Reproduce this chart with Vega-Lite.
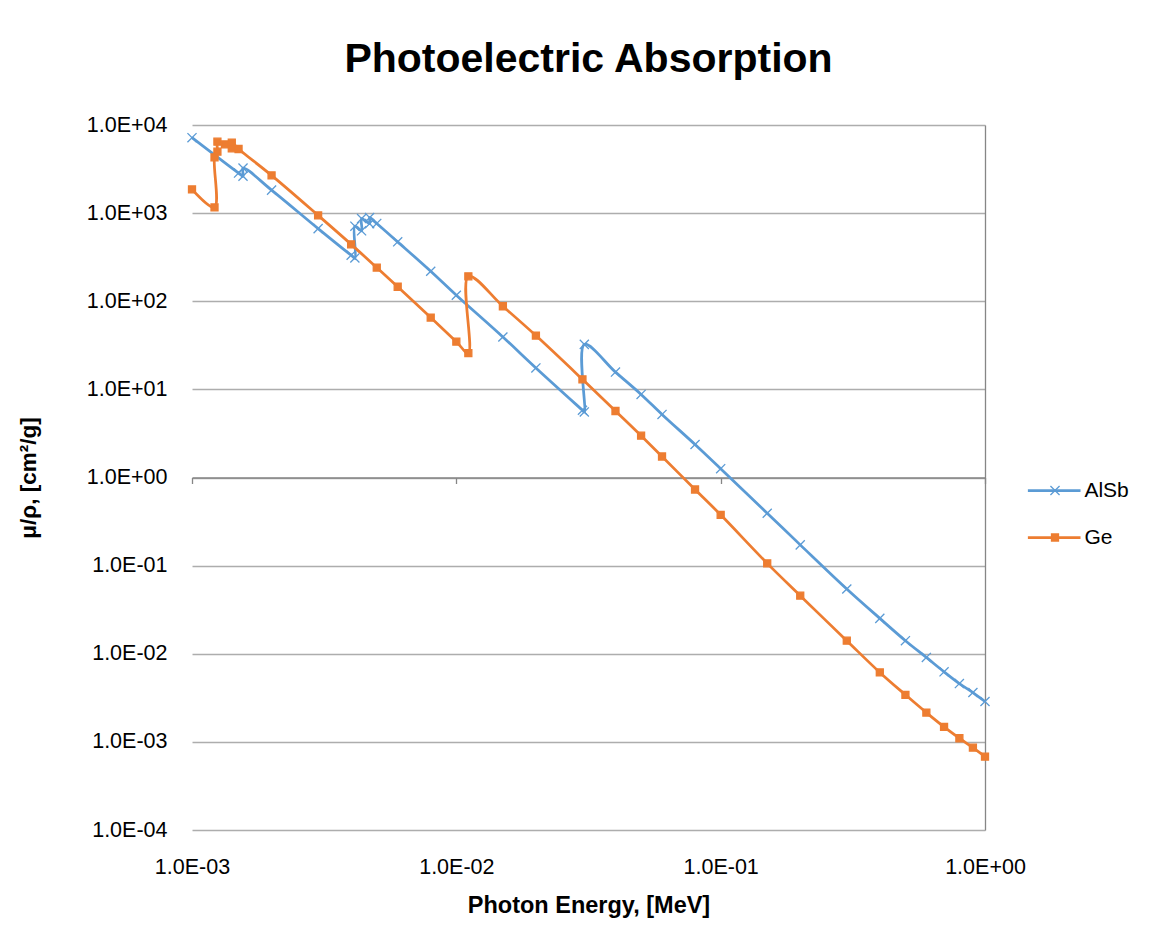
{
  "$schema": "https://vega.github.io/schema/vega-lite/v6.json",
  "width": 793,
  "height": 705,
  "autosize": {"type": "none"},
  "padding": {"left": 192, "top": 125, "right": 172, "bottom": 107},
  "background": "white",
  "title": {"text": "Photoelectric Absorption", "font": "Liberation Sans", "fontSize": 41, "fontWeight": "bold", "color": "#000000", "anchor": "middle", "baseline": "alphabetic", "offset": 1},
  "config": {
    "view": {"stroke": null},
    "axis": {"labelFont": "Liberation Sans", "titleFont": "Liberation Sans"},
    "legend": {"labelFont": "Liberation Sans"}
  },
  "data": {"values": [
    {"s": "AlSb", "i": 1, "E": 0.001, "mu": 7180},
    {"s": "AlSb", "i": 2, "E": 0.0015, "mu": 2848},
    {"s": "AlSb", "i": 3, "E": 0.0015596, "mu": 2630},
    {"s": "AlSb", "i": 4, "E": 0.0015596, "mu": 3245},
    {"s": "AlSb", "i": 5, "E": 0.002, "mu": 1824},
    {"s": "AlSb", "i": 6, "E": 0.003, "mu": 667},
    {"s": "AlSb", "i": 7, "E": 0.004, "mu": 333},
    {"s": "AlSb", "i": 8, "E": 0.004132, "mu": 310},
    {"s": "AlSb", "i": 9, "E": 0.004132, "mu": 711},
    {"s": "AlSb", "i": 10, "E": 0.004381, "mu": 630},
    {"s": "AlSb", "i": 11, "E": 0.004381, "mu": 867},
    {"s": "AlSb", "i": 12, "E": 0.004698, "mu": 760},
    {"s": "AlSb", "i": 13, "E": 0.004698, "mu": 890},
    {"s": "AlSb", "i": 14, "E": 0.005, "mu": 764},
    {"s": "AlSb", "i": 15, "E": 0.006, "mu": 472},
    {"s": "AlSb", "i": 16, "E": 0.008, "mu": 219},
    {"s": "AlSb", "i": 17, "E": 0.01, "mu": 117},
    {"s": "AlSb", "i": 18, "E": 0.015, "mu": 39.3},
    {"s": "AlSb", "i": 19, "E": 0.02, "mu": 17.5},
    {"s": "AlSb", "i": 20, "E": 0.03, "mu": 5.8},
    {"s": "AlSb", "i": 21, "E": 0.03049, "mu": 5.55},
    {"s": "AlSb", "i": 22, "E": 0.03049, "mu": 32.4},
    {"s": "AlSb", "i": 23, "E": 0.04, "mu": 15.7},
    {"s": "AlSb", "i": 24, "E": 0.05, "mu": 8.77},
    {"s": "AlSb", "i": 25, "E": 0.06, "mu": 5.2},
    {"s": "AlSb", "i": 26, "E": 0.08, "mu": 2.37},
    {"s": "AlSb", "i": 27, "E": 0.1, "mu": 1.26},
    {"s": "AlSb", "i": 28, "E": 0.15, "mu": 0.393},
    {"s": "AlSb", "i": 29, "E": 0.2, "mu": 0.172},
    {"s": "AlSb", "i": 30, "E": 0.3, "mu": 0.0543},
    {"s": "AlSb", "i": 31, "E": 0.4, "mu": 0.0252},
    {"s": "AlSb", "i": 32, "E": 0.5, "mu": 0.01406},
    {"s": "AlSb", "i": 33, "E": 0.6, "mu": 0.00908},
    {"s": "AlSb", "i": 34, "E": 0.7, "mu": 0.00624},
    {"s": "AlSb", "i": 35, "E": 0.8, "mu": 0.00459},
    {"s": "AlSb", "i": 36, "E": 0.9, "mu": 0.00363},
    {"s": "AlSb", "i": 37, "E": 1.0, "mu": 0.00287},
    {"s": "Ge", "i": 1, "E": 0.001, "mu": 1858},
    {"s": "Ge", "i": 2, "E": 0.0012167, "mu": 1161},
    {"s": "Ge", "i": 3, "E": 0.0012167, "mu": 4295},
    {"s": "Ge", "i": 4, "E": 0.0012478, "mu": 4980},
    {"s": "Ge", "i": 5, "E": 0.0012478, "mu": 6460},
    {"s": "Ge", "i": 6, "E": 0.001333, "mu": 6030},
    {"s": "Ge", "i": 7, "E": 0.0014143, "mu": 5435},
    {"s": "Ge", "i": 8, "E": 0.0014143, "mu": 6310},
    {"s": "Ge", "i": 9, "E": 0.0015, "mu": 5340},
    {"s": "Ge", "i": 10, "E": 0.002, "mu": 2680},
    {"s": "Ge", "i": 11, "E": 0.003, "mu": 942},
    {"s": "Ge", "i": 12, "E": 0.004, "mu": 442},
    {"s": "Ge", "i": 13, "E": 0.005, "mu": 241},
    {"s": "Ge", "i": 14, "E": 0.006, "mu": 146},
    {"s": "Ge", "i": 15, "E": 0.008, "mu": 65.3},
    {"s": "Ge", "i": 16, "E": 0.01, "mu": 34.8},
    {"s": "Ge", "i": 17, "E": 0.011103, "mu": 25.8},
    {"s": "Ge", "i": 18, "E": 0.011103, "mu": 192},
    {"s": "Ge", "i": 19, "E": 0.015, "mu": 87.7},
    {"s": "Ge", "i": 20, "E": 0.02, "mu": 40.8},
    {"s": "Ge", "i": 21, "E": 0.03, "mu": 13.0},
    {"s": "Ge", "i": 22, "E": 0.04, "mu": 5.68},
    {"s": "Ge", "i": 23, "E": 0.05, "mu": 2.98},
    {"s": "Ge", "i": 24, "E": 0.06, "mu": 1.73},
    {"s": "Ge", "i": 25, "E": 0.08, "mu": 0.731},
    {"s": "Ge", "i": 26, "E": 0.1, "mu": 0.377},
    {"s": "Ge", "i": 27, "E": 0.15, "mu": 0.106},
    {"s": "Ge", "i": 28, "E": 0.2, "mu": 0.0456},
    {"s": "Ge", "i": 29, "E": 0.3, "mu": 0.01406},
    {"s": "Ge", "i": 30, "E": 0.4, "mu": 0.00614},
    {"s": "Ge", "i": 31, "E": 0.5, "mu": 0.00342},
    {"s": "Ge", "i": 32, "E": 0.6, "mu": 0.00215},
    {"s": "Ge", "i": 33, "E": 0.7, "mu": 0.00148},
    {"s": "Ge", "i": 34, "E": 0.8, "mu": 0.0011},
    {"s": "Ge", "i": 35, "E": 0.9, "mu": 0.00086},
    {"s": "Ge", "i": 36, "E": 1.0, "mu": 0.00068}
  ]},
  "layer": [
    {
      "mark": {"type": "line", "interpolate": "catmull-rom", "strokeWidth": 2.75},
      "encoding": {
        "x": {"field": "E", "type": "quantitative",
              "scale": {"type": "log", "domain": [0.001, 1], "nice": false},
              "axis": {"values": [0.001, 0.01, 0.1, 1], "grid": false, "domain": false, "ticks": false, "tickSize": 0,
                       "labelExpr": "'1.0E' + (round(log(datum.value)/LN10) < 0 ? '-' : '+') + (abs(round(log(datum.value)/LN10)) < 10 ? '0' : '') + abs(round(log(datum.value)/LN10))",
                       "labelFontSize": 21.5, "labelColor": "#000000", "labelBaseline": "alphabetic", "labelPadding": 43, "labelFlush": false, "labelOverlap": false,
                       "title": "Photon Energy, [MeV]", "titleFontSize": 23.5, "titleFontWeight": "bold", "titleColor": "#000000", "titlePadding": 16}},
        "y": {"field": "mu", "type": "quantitative",
              "scale": {"type": "log", "domain": [0.0001, 10000], "nice": false},
              "axis": {"values": [0.0001, 0.001, 0.01, 0.1, 1, 10, 100, 1000, 10000], "grid": true, "gridColor": "#ADADAD", "gridWidth": 1.5,
                       "domain": false, "ticks": false, "tickSize": 0,
                       "labelExpr": "'1.0E' + (round(log(datum.value)/LN10) < 0 ? '-' : '+') + (abs(round(log(datum.value)/LN10)) < 10 ? '0' : '') + abs(round(log(datum.value)/LN10))",
                       "labelFontSize": 21.5, "labelColor": "#000000", "labelPadding": 25, "labelOverlap": false, "labelFlush": false,
                       "title": "μ/ρ, [cm²/g]", "titleFontSize": 22.5, "titleFontWeight": "bold", "titleColor": "#000000", "titlePadding": 46}},
        "color": {"field": "s", "type": "nominal",
                  "scale": {"domain": ["AlSb", "Ge"], "range": ["#5B9BD5", "#ED7D31"]},
                  "legend": {"title": null, "orient": "none", "legendX": 851.7, "legendY": 355, "symbolType": "M-8,0L8,0", "symbolSize": 43.3, "symbolStrokeWidth": 2.75,
                             "labelFontSize": 21, "labelColor": "#000000", "labelOffset": 19.7, "rowPadding": 25, "padding": 0}},
        "order": {"field": "i", "type": "quantitative"}
      }
    },
    {
      "mark": {"type": "point", "filled": true, "opacity": 1, "size": 49, "strokeWidth": 1.3},
      "encoding": {
        "x": {"field": "E", "type": "quantitative",
              "scale": {"type": "log", "domain": [0.001, 1], "nice": false},
              "axis": {"orient": "bottom", "offset": -352.5, "values": [0.001, 0.01, 0.1, 1], "labels": false, "grid": false,
                       "domain": true, "domainColor": "#868686", "domainWidth": 1.3, "ticks": true, "tickSize": 6, "tickColor": "#868686", "tickWidth": 1.3, "title": null}},
        "y": {"field": "mu", "type": "quantitative",
              "scale": {"type": "log", "domain": [0.0001, 10000], "nice": false},
              "axis": {"orient": "right", "labels": false, "grid": false, "ticks": false, "domain": true, "domainColor": "#868686", "domainWidth": 1.3, "title": null}},
        "shape": {"field": "s", "type": "nominal",
                  "scale": {"range": ["M-1.3,-1.3L1.3,1.3M1.3,-1.3L-1.3,1.3", "square"]},
                  "legend": {"title": null, "orient": "none", "legendX": 852.5, "legendY": 355, "symbolSize": 49, "symbolStrokeWidth": 1.3,
                             "labelFontSize": 21, "labelExpr": "''", "rowPadding": 25, "padding": 0}},
        "fill": {"field": "s", "type": "nominal", "scale": {"range": ["#5B9BD5", "#ED7D31"]},
                 "legend": {"title": null, "orient": "none", "legendX": 852.5, "legendY": 355, "symbolSize": 49, "symbolStrokeWidth": 1.3,
                            "labelFontSize": 21, "labelExpr": "''", "rowPadding": 25, "padding": 0}},
        "stroke": {"field": "s", "type": "nominal", "scale": {"range": ["#5B9BD5", "#ED7D31"]},
                   "legend": {"title": null, "orient": "none", "legendX": 852.5, "legendY": 355, "symbolSize": 49, "symbolStrokeWidth": 1.3,
                              "labelFontSize": 21, "labelExpr": "''", "rowPadding": 25, "padding": 0}},
        "order": {"field": "i", "type": "quantitative"}
      }
    }
  ],
  "resolve": {"axis": {"x": "independent", "y": "independent"}}
}
